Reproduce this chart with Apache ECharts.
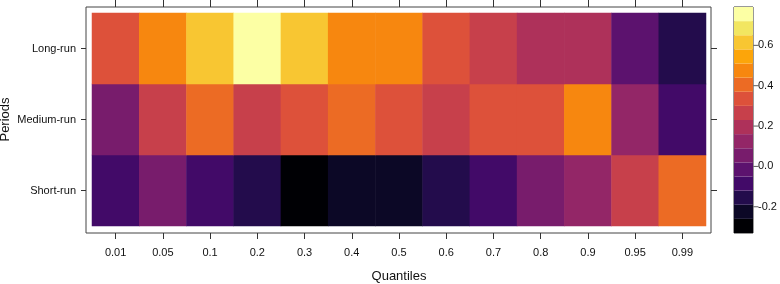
<!DOCTYPE html>
<html>
<head>
<meta charset="utf-8">
<title>Quantiles heatmap</title>
<script src="https://cdn.jsdelivr.net/npm/echarts@6/dist/echarts.min.js"></script>
<style>
  html, body { margin: 0; padding: 0; background: #fff; }
  #main { width: 780px; height: 284px; }
</style>
</head>
<body>
<div id="main"></div>
<script type="text/javascript">
// categories
var quantiles = ['0.01', '0.05', '0.1', '0.2', '0.3', '0.4', '0.5', '0.6', '0.7', '0.8', '0.9', '0.95', '0.99'];
var periods = ['Short-run', 'Medium-run', 'Long-run']; // bottom -> top

// values (one per quantile)
var longRun   = [0.33, 0.47, 0.62, 0.76, 0.61, 0.48, 0.46, 0.34, 0.27, 0.20, 0.19, -0.01, -0.15];
var mediumRun = [0.05, 0.26, 0.40, 0.27, 0.33, 0.41, 0.32, 0.25, 0.35, 0.34, 0.47, 0.12, -0.09];
var shortRun  = [-0.08, 0.06, -0.10, -0.16, -0.30, -0.22, -0.23, -0.15, -0.07, 0.04, 0.13, 0.25, 0.42];

// colour key
var breaks = [-0.33, -0.26, -0.19, -0.12, -0.05, 0.02, 0.09, 0.16, 0.23, 0.30, 0.37, 0.44, 0.51, 0.58, 0.65, 0.72, 0.79];
var palette = ['#000004', '#0c0826', '#230c4c', '#420a68', '#5c126e', '#781c6c', '#932667', '#ae315a',
               '#c7404b', '#dd513a', '#ec6b24', '#f7870f', '#fca50a', '#f8c632', '#f2e661', '#fcffa4'];
var keyTicks = [-0.2, 0, 0.2, 0.4, 0.6];

var rows = [shortRun, mediumRun, longRun];
var cells = [];
for (var j = 0; j < rows.length; j++) {
  for (var i = 0; i < quantiles.length; i++) {
    cells.push([i, j, rows[j][i]]);
  }
}
var pieces = [];
var keyBins = [];
for (var k = 0; k < palette.length; k++) {
  pieces.push({ gte: breaks[k], lt: breaks[k + 1], color: palette[k] });
  keyBins.push([breaks[k], breaks[k + 1], k]);
}
var keyTickPts = keyTicks.map(function (v) { return [1, v]; });

var txt = { fontFamily: 'Liberation Sans', fontSize: 11, color: '#111' };
var tickStyle = { color: '#333', width: 1 };

var myChart = echarts.init(document.getElementById('main'));
var option = {
  animation: false,
  textStyle: { fontFamily: 'Liberation Sans' },
  grid: [
    // panel frame
    { left: 86, top: 7, width: 625, height: 226, show: true, borderColor: '#444', borderWidth: 1,
      backgroundColor: 'transparent', containLabel: false, outerBoundsMode: 'none' },
    // cells
    { left: 92, top: 13, width: 614, height: 213, containLabel: false, outerBoundsMode: 'none' },
    // colour key
    { left: 734, top: 7, width: 19, height: 226, show: true, borderColor: '#333', borderWidth: 1,
      containLabel: false, outerBoundsMode: 'none' }
  ],
  visualMap: {
    type: 'piecewise',
    show: false,
    seriesIndex: 0,
    dimension: 2,
    pieces: pieces
  },
  xAxis: [
    { type: 'category', gridIndex: 0, show: false, data: quantiles },
    {
      type: 'category', gridIndex: 1, position: 'bottom', offset: 7, data: quantiles,
      axisLine: { show: false },
      axisTick: { show: true, alignWithLabel: true, length: 6, lineStyle: tickStyle },
      axisLabel: Object.assign({ margin: 14 }, txt),
      name: 'Quantiles', nameLocation: 'middle', nameGap: 37, nameMoveOverlap: false,
      nameTextStyle: { fontFamily: 'Liberation Sans', fontSize: 13, color: '#111' }
    },
    {
      type: 'category', gridIndex: 1, position: 'top', offset: 6, data: quantiles,
      axisLine: { show: false },
      axisTick: { show: true, alignWithLabel: true, length: 7, lineStyle: tickStyle },
      axisLabel: { show: false }
    },
    { type: 'value', gridIndex: 2, show: false, min: 0, max: 1 }
  ],
  yAxis: [
    { type: 'category', gridIndex: 0, show: false, data: periods },
    {
      type: 'category', gridIndex: 1, position: 'left', offset: 6, data: periods,
      axisLine: { show: false },
      axisTick: { show: true, alignWithLabel: true, length: 5, lineStyle: tickStyle },
      axisLabel: Object.assign({ margin: 10 }, txt),
      name: 'Periods', nameLocation: 'middle', nameGap: 74, nameRotate: 90, nameMoveOverlap: false,
      nameTextStyle: { fontFamily: 'Liberation Sans', fontSize: 13, color: '#111' }
    },
    {
      type: 'category', gridIndex: 1, position: 'right', offset: 5, data: periods,
      axisLine: { show: false },
      axisTick: { show: true, alignWithLabel: true, length: 6, lineStyle: tickStyle },
      axisLabel: { show: false }
    },
    {
      type: 'value', gridIndex: 2, position: 'right', min: breaks[0], max: breaks[breaks.length - 1],
      splitLine: { show: false },
      axisLine: { show: false },
      axisTick: { show: false },
      axisLabel: Object.assign({
        margin: 5, customValues: keyTicks,
        formatter: function (v) { return v.toFixed(1); }
      }, txt)
    }
  ],
  series: [
    {
      type: 'heatmap',
      xAxisIndex: 1,
      yAxisIndex: 1,
      data: cells,
      emphasis: { disabled: true }
    },
    {
      type: 'custom',
      xAxisIndex: 3,
      yAxisIndex: 3,
      data: keyBins,
      silent: true,
      renderItem: function (params, api) {
        var p0 = api.coord([0, api.value(0)]);
        var p1 = api.coord([1, api.value(1)]);
        return {
          type: 'rect',
          shape: { x: p0[0], y: p1[1], width: p1[0] - p0[0], height: p0[1] - p1[1] },
          style: { fill: palette[api.value(2)] }
        };
      }
    },
    {
      // tick marks of the colour key
      type: 'scatter',
      xAxisIndex: 3,
      yAxisIndex: 3,
      data: keyTickPts,
      silent: true,
      clip: false,
      symbol: 'rect',
      symbolSize: [5, 1],
      symbolOffset: [3, 0],
      itemStyle: { color: '#333' }
    }
  ]
};
myChart.setOption(option);
</script>
</body>
</html>
